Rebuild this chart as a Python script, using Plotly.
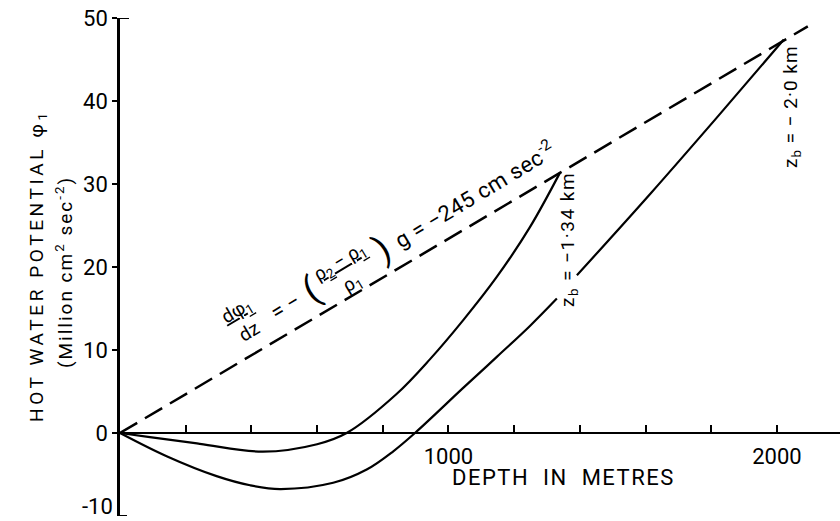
import plotly.graph_objects as go

# ---- data ----
depth_gradient = [0, 2094]
phi_gradient = [0, 49.0]

depth_zb134 = [0, 91, 243, 435, 600, 690, 842, 944, 1045, 1147, 1248, 1340]
phi_zb134 = [0, -0.5, -1.3, -2.25, -1.35, 0, 4.7, 8.9, 13.6, 18.8, 24.8, 31.4]

depth_zb200 = [0, 142, 294, 396, 487, 649, 751, 832, 898, 1044, 1148, 1248, 1330, None, 1391, 1614, 1817, 2021]
phi_zb200 = [0, -2.8, -5.2, -6.3, -6.75, -6.0, -4.4, -2.2, 0, 5.4, 9.2, 12.9, 16.2, None, 19.0, 28.8, 38.0, 47.4]

y_min, y_max = -10, 50
y_ticks = [0, 10, 20, 30, 40, 50]
y_tick_text = ["0", "10", "20", "30", "40", "50"]
y_bottom_label = "-10"
x_ticks = [1000, 2000]
x_tick_text = ["1000", "2000"]
x_minor_step = 200

# ---- layout constants ----
W, H = 840, 521
ML, MR, MT, MB = 120, 0, 18, 5
PW, PH = W - ML - MR, H - MT - MB
FONT = "Roboto, 'DejaVu Sans', sans-serif"


def px(xp):
    return (xp - ML) / PW


def py(yp):
    return (H - MB - yp) / PH


fig = go.Figure()
fig.add_trace(go.Scatter(x=depth_gradient, y=phi_gradient, mode="lines",
                         line=dict(color="black", width=2.5, dash="20px,9px"),
                         showlegend=False, hoverinfo="skip"))
fig.add_trace(go.Scatter(x=depth_zb134, y=phi_zb134, mode="lines",
                         line=dict(color="black", width=2.2, shape="spline", smoothing=1.0),
                         showlegend=False, hoverinfo="skip"))
fig.add_trace(go.Scatter(x=depth_zb200, y=phi_zb200, mode="lines", connectgaps=False,
                         line=dict(color="black", width=2.2, shape="spline", smoothing=1.0),
                         showlegend=False, hoverinfo="skip"))


def ann(text, xp, yp, size, angle=0, spacing=0):
    if spacing:
        text = f"<span style='letter-spacing:{spacing}px'>{text}</span>"
    fig.add_annotation(text=text, x=px(xp), y=py(yp), xref="paper", yref="paper",
                       showarrow=False, textangle=angle, xanchor="center", yanchor="middle",
                       font=dict(family=FONT, size=size, color="black"))


# axis titles
ann("HOT WATER POTENTIAL φ<sub>1</sub>", 37, 266, 19, -90, 3.6)
ann("(Million cm<sup>2</sup> sec<sup>-2</sup>)", 64, 272, 19, -90, 2)
ann("DEPTH  IN  METRES", 563, 477, 22, 0, 1.5)

# curve labels
ann("z<sub>b</sub> = −1·34 km", 568, 240, 19, -90, 1.5)
ann("z<sub>b</sub> = − 2·0 km", 791, 107, 19, -90, 1)

# gradient formula
ann("<u>dφ<sub>1</sub></u><br>dz", 243, 321, 19, -31)
ann("= −", 285, 306, 22, -31)
ann("(", 311, 290, 36, -31)
ann("<u>ρ<sub>2</sub> − ρ<sub>1</sub></u><br>ρ<sub>1</sub>", 346, 273, 19, -31)
ann(")", 382, 249, 36, -31)
ann("g = −245 cm sec<sup>-2</sup>", 474, 194, 22, -31, 0.5)

# bottom tick label of the vertical axis, kept fully inside the picture
fig.add_annotation(text=y_bottom_label, x=0, xref="paper", xanchor="right", xshift=-5,
                   y=py(H), yref="paper", yanchor="bottom", showarrow=False,
                   font=dict(family=FONT, size=22, color="black"))

# small hooks at the ends of the vertical axis
for yv, ln in ((y_max, 9), (y_min, 7)):
    fig.add_shape(type="line", xref="paper", yref="y", x0=0, x1=ln / PW, y0=yv, y1=yv,
                  line=dict(color="black", width=2))

fig.update_layout(
    width=W, height=H,
    margin=dict(l=ML, r=MR, t=MT, b=MB, autoexpand=False),
    paper_bgcolor="white", plot_bgcolor="white",
    font=dict(family=FONT, color="black"),
    xaxis=dict(range=[0, 2192], anchor="free", position=10 / 60, showline=True,
               automargin=False,
               linecolor="black", linewidth=2, showgrid=False, zeroline=False,
               tickmode="array", tickvals=x_ticks, ticktext=x_tick_text,
               ticks="inside", ticklen=7, tickwidth=1.5, tickcolor="black",
               minor=dict(tick0=0, dtick=x_minor_step, ticks="inside", ticklen=7,
                          tickwidth=1.5, tickcolor="black", showgrid=False),
               tickfont=dict(family=FONT, size=22, color="black"), ticklabelstandoff=4),
    yaxis=dict(range=[y_min, y_max], showline=True, linecolor="black", linewidth=2.5,
               automargin=False, ticklabeloverflow="allow",
               showgrid=False, zeroline=False, tickmode="array", tickvals=y_ticks,
               ticktext=y_tick_text, ticks="outside", ticklen=5, tickwidth=2,
               tickcolor="black", tickfont=dict(family=FONT, size=22, color="black")),
)

fig.write_html("out.html", config={"displayModeBar": False},
               post_script="document.body.style.margin='0px';document.body.style.overflow='hidden';")
